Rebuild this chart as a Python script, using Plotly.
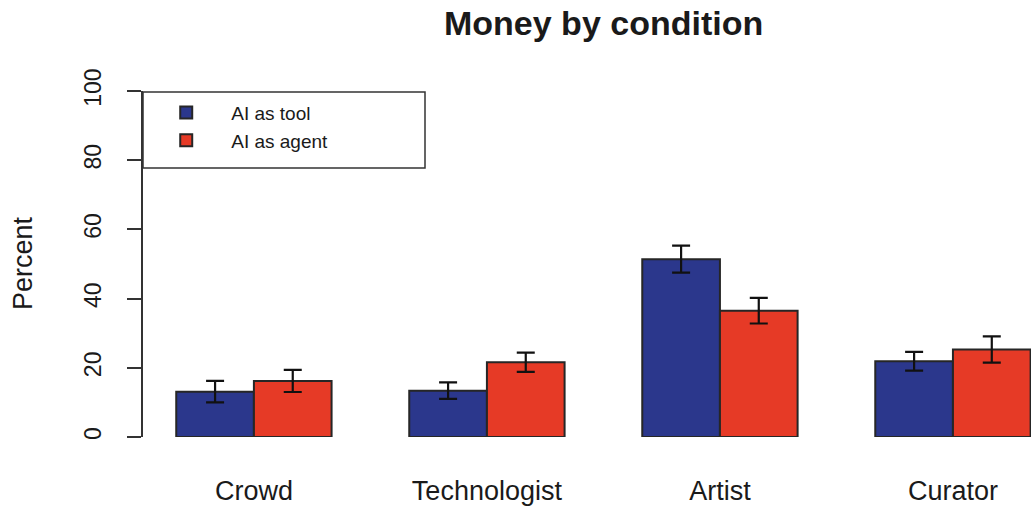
import plotly.graph_objects as go

# Money allocation by condition (percent), with standard-error bars
conditions = ["Crowd", "Technologist", "Artist", "Curator"]
tool_pct = [13.1, 13.4, 51.4, 21.9]
tool_err = [3.1, 2.4, 3.9, 2.7]
agent_pct = [16.2, 21.6, 36.5, 25.3]
agent_err = [3.2, 2.8, 3.7, 3.8]
y_ticks = [0, 20, 40, 60, 80, 100]

FONT = "Liberation Sans, Arial, Helvetica, sans-serif"
BLUE = "#2b378c"
RED = "#e63a26"
EDGE = "#262626"

W, H = 1031, 510
ML, MR, MT, MB = 143, 0, 91, 73
pw = W - ML - MR
ph = H - MT - MB

fig = go.Figure()
fig.add_trace(go.Bar(
    name="AI as tool", x=conditions, y=tool_pct,
    marker=dict(color=BLUE, line=dict(color=EDGE, width=2)),
    error_y=dict(type="data", array=tool_err, color="#111111", thickness=2.2, width=9),
))
fig.add_trace(go.Bar(
    name="AI as agent", x=conditions, y=agent_pct,
    marker=dict(color=RED, line=dict(color=EDGE, width=2)),
    error_y=dict(type="data", array=agent_err, color="#111111", thickness=2.2, width=9),
))

# legend frame
fig.add_shape(type="rect", xref="paper", yref="paper",
              x0=0, x1=(425 - ML) / pw, y0=(437 - 168) / ph, y1=(437 - 92) / ph,
              line=dict(color="#333333", width=1.5), fillcolor="rgba(0,0,0,0)", layer="above")

# title and y-axis label
fig.add_annotation(text="<b>Money by condition</b>", xref="paper", yref="paper",
                   x=(603 - ML) / pw, y=(437 - 23) / ph, xanchor="center", yanchor="middle",
                   showarrow=False, font=dict(family=FONT, size=34, color="#1a1a1a"))
fig.add_annotation(text="Percent", xref="paper", yref="paper",
                   x=(23 - ML) / pw, y=(437 - 263) / ph, xanchor="center", yanchor="middle",
                   textangle=-90, showarrow=False, font=dict(family=FONT, size=27, color="#1a1a1a"))

fig.update_layout(
    width=W, height=H,
    margin=dict(l=ML, r=MR, t=MT, b=MB, pad=0),
    paper_bgcolor="white", plot_bgcolor="white",
    barmode="group", bargap=1 / 3, bargroupgap=0,
    showlegend=True,
    legend=dict(x=-0.002, y=0.992, xanchor="left", yanchor="top",
                bgcolor="rgba(0,0,0,0)", borderwidth=0,
                font=dict(family=FONT, size=19, color="#1a1a1a"),
                itemwidth=80, tracegroupgap=0),
    xaxis=dict(type="category", range=[-0.476, 3.335], showline=False, showgrid=False,
               zeroline=False, ticks="", tickfont=dict(family=FONT, size=27, color="#1a1a1a"),
               ticklabelstandoff=35),
    yaxis=dict(range=[0, 100], tickvals=y_ticks, ticktext=[str(v) for v in y_ticks],
               showline=True, linecolor="#333333", linewidth=1.5,
               ticks="outside", ticklen=14, tickwidth=1.5, tickcolor="#333333",
               tickangle=-90, showgrid=False, zeroline=False,
               tickfont=dict(family=FONT, size=23, color="#1a1a1a"),
               ticklabelstandoff=17),
)

fig.write_html("out.html")
